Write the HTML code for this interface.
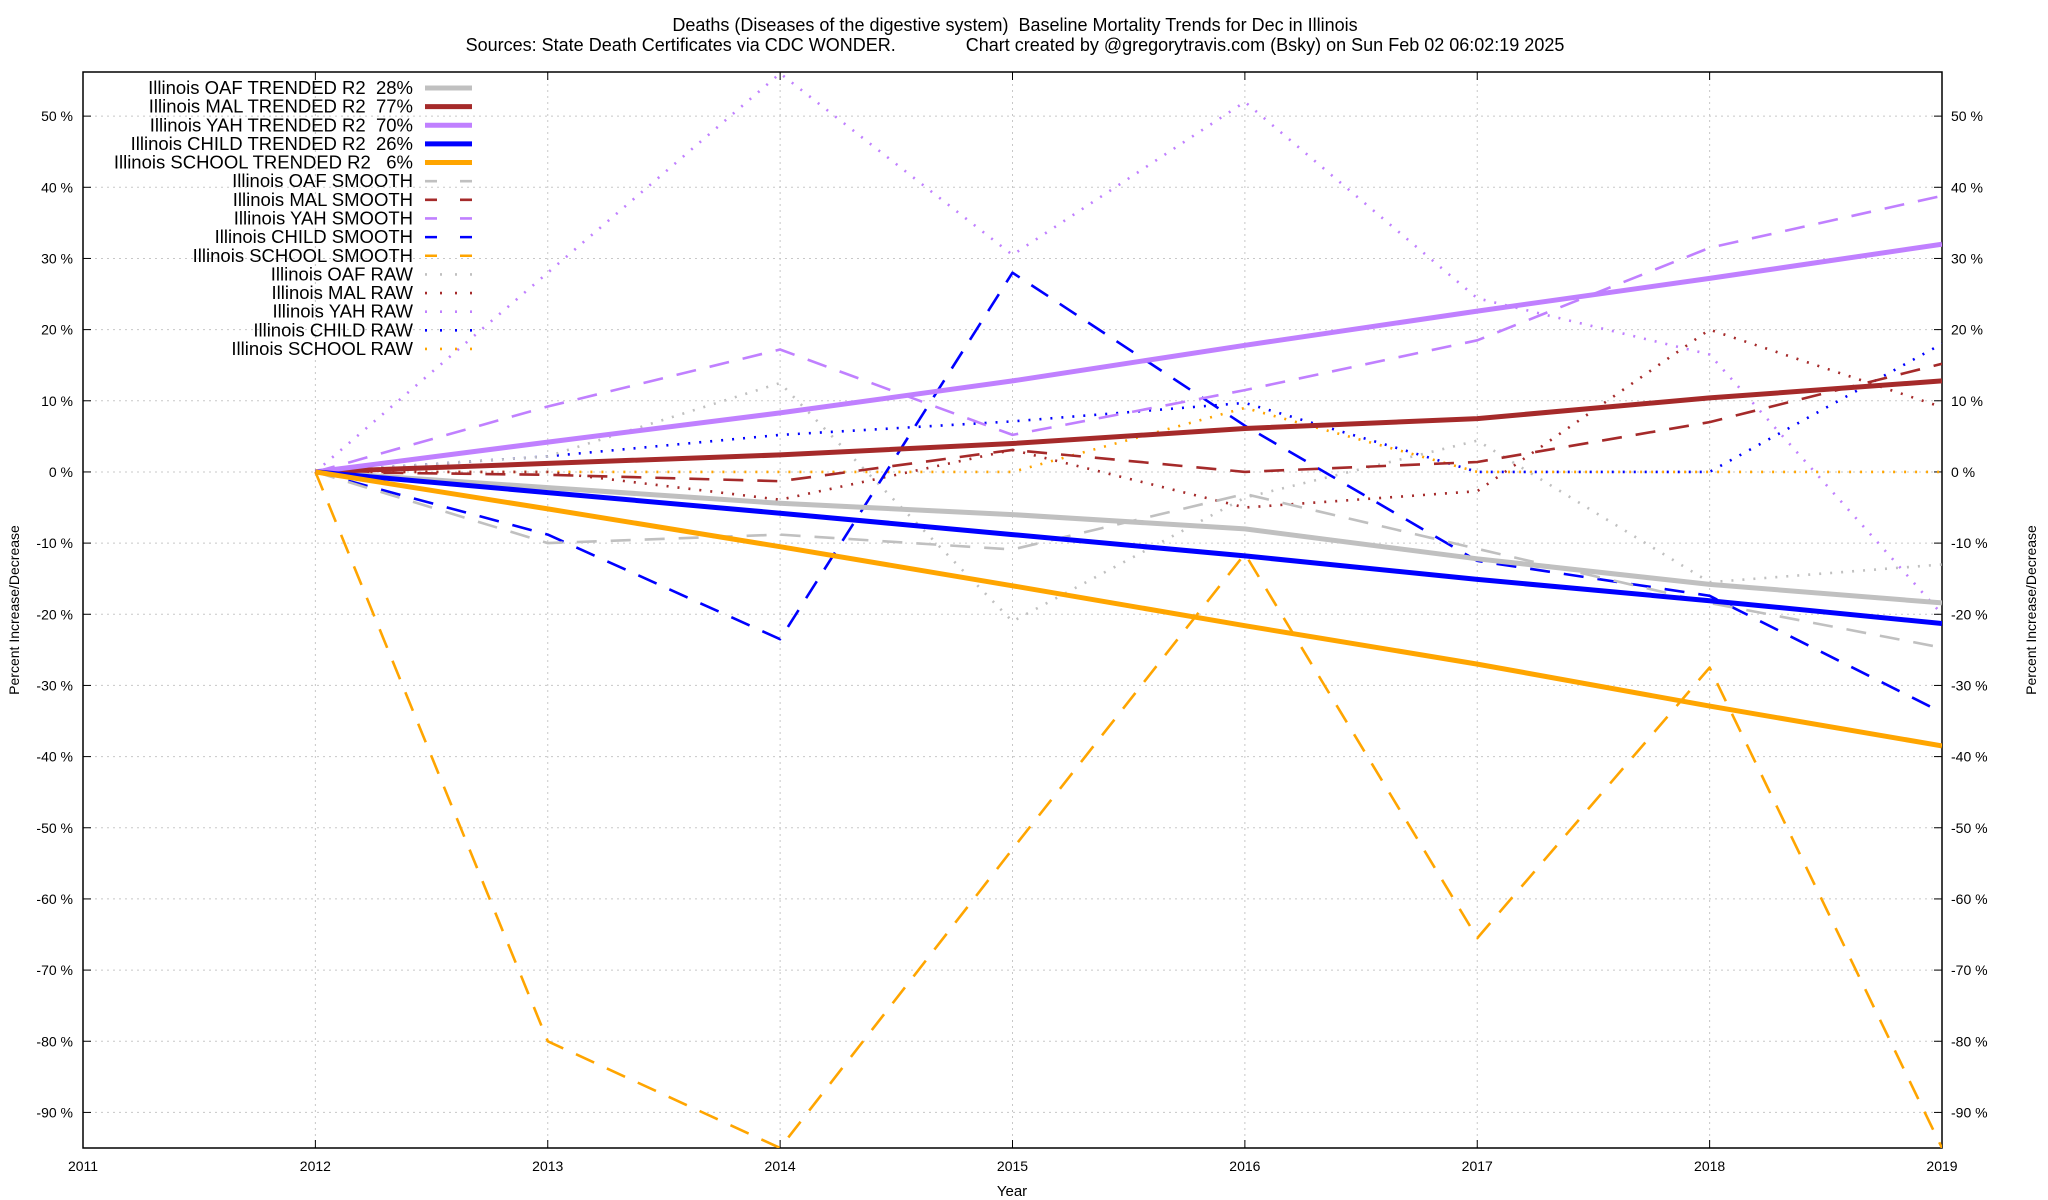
<!DOCTYPE html>
<html><head><meta charset="utf-8">
<style>
html,body{margin:0;padding:0;background:#fff;}
svg{display:block;font-family:"Liberation Sans",Arial,sans-serif;}
text{white-space:pre;}
</style></head>
<body>
<svg id="chart" width="2048" height="1200" viewBox="0 0 2048 1200" xmlns="http://www.w3.org/2000/svg">
<rect x="0" y="0" width="2048" height="1200" fill="#fff"/>
<text x="1015" y="31" font-size="18" text-anchor="middle">Deaths (Diseases of the digestive system)  Baseline Mortality Trends for Dec in Illinois</text>
<text x="1015" y="51" font-size="18" text-anchor="middle">Sources: State Death Certificates via CDC WONDER.              Chart created by @gregorytravis.com (Bsky) on Sun Feb 02 06:02:19 2025</text>
<g id="grid"></g>
<g id="axes"></g>
<g id="series"></g>
<g id="legend"></g>
<text x="1012" y="1196" font-size="15" text-anchor="middle">Year</text>
<text transform="translate(19,610) rotate(-90)" font-size="14" text-anchor="middle">Percent Increase/Decrease</text>
<text transform="translate(2036,610) rotate(-90)" font-size="14" text-anchor="middle">Percent Increase/Decrease</text>
</svg>
<script>
const years = [2012,2013,2014,2015,2016,2017,2018,2019];
const xTicks = [2011,2012,2013,2014,2015,2016,2017,2018,2019];
const yTicks = [50,40,30,20,10,0,-10,-20,-30,-40,-50,-60,-70,-80,-90];
const oafTrend = [0,-2.2,-4.4,-6,-8,-12.2,-15.8,-18.4];
const malTrend = [0,1.2,2.4,4,6.1,7.5,10.4,12.8];
const yahTrend = [0,4.2,8.3,12.8,17.8,22.6,27.2,32];
const childTrend = [0,-2.9,-5.8,-8.8,-11.8,-15.1,-18.1,-21.3];
const schoolTrend = [0,-5.2,-10.5,-16,-21.6,-27,-32.9,-38.5];
const oafSmooth = [0,-10,-8.8,-10.9,-3.1,-10.8,-18.4,-24.7];
const malSmooth = [0,-0.4,-1.3,3.1,0,1.4,7,15.2];
const yahSmooth = [0,9.2,17.2,5.2,11.5,18.5,31.5,38.8];
const childSmooth = [0,-8.8,-23.5,28,6.5,-12.5,-17.4,-33.8];
const schoolSmooth = [0,-80,-95,-53,-11.5,-65.5,-27.5,-95];
const oafRaw = [0,2.2,12.5,-21,-3.6,4.4,-15.5,-13];
const malRaw = [0,0,-3.9,3.1,-5,-2.7,20,9.1];
const yahRaw = [0,28,56,30.5,52,24.4,16.5,-20];
const childRaw = [0,2.2,5.2,7.1,9.7,0,0,18];
const schoolRaw = [0,0,0,0,9,0,0,0];
const legendLabels = ["Illinois OAF TRENDED R2  28%","Illinois MAL TRENDED R2  77%","Illinois YAH TRENDED R2  70%","Illinois CHILD TRENDED R2  26%","Illinois SCHOOL TRENDED R2   6%","Illinois OAF SMOOTH","Illinois MAL SMOOTH","Illinois YAH SMOOTH","Illinois CHILD SMOOTH","Illinois SCHOOL SMOOTH","Illinois OAF RAW","Illinois MAL RAW","Illinois YAH RAW","Illinois CHILD RAW","Illinois SCHOOL RAW"];

const NS="http://www.w3.org/2000/svg";
const L=83,R=1942,T=72,B=1148;
const xMin=2011,xMax=2019,yMin=-95,yMax=56.2;
function xs(v){return L+(v-xMin)/(xMax-xMin)*(R-L);}
function ys(v){return B-(v-yMin)/(yMax-yMin)*(B-T);}
function mk(tag,attrs,parent){const e=document.createElementNS(NS,tag);for(const k in attrs)e.setAttribute(k,attrs[k]);parent.appendChild(e);return e;}

const grid=document.getElementById('grid'),axes=document.getElementById('axes'),ser=document.getElementById('series'),leg=document.getElementById('legend');
xTicks.forEach(t=>{
  const x=xs(t);
  if(t>xMin&&t<xMax){const g=mk('line',{x1:x,y1:T,x2:x,y2:B,stroke:'#c8c8c8','stroke-width':1,'stroke-dasharray':'2,4'},grid);
  
  }
  const tk=mk('line',{x1:x,y1:B,x2:x,y2:B-8,stroke:'#000','stroke-width':1},axes);
  
  
  const tk2=mk('line',{x1:x,y1:T,x2:x,y2:T+8,stroke:'#000','stroke-width':1},axes);
  
  
  const lb=mk('text',{x:x,y:B+23,'font-size':14,'text-anchor':'middle'},axes);lb.textContent=t;
  
  
});
yTicks.forEach(t=>{
  const y=ys(t);
  const g=mk('line',{x1:L,y1:y,x2:R,y2:y,stroke:'#c8c8c8','stroke-width':1,'stroke-dasharray':'2,4'},grid);
  
  
  const a=mk('line',{x1:L,y1:y,x2:L+8,y2:y,stroke:'#000'},axes);
  
  
  const b=mk('line',{x1:R,y1:y,x2:R-8,y2:y,stroke:'#000'},axes);
  
  
  const l1=mk('text',{x:73,y:y+5,'font-size':14,'text-anchor':'end'},axes);l1.textContent=t+' %';
  
  
  const l2=mk('text',{x:1951,y:y+5,'font-size':14,'text-anchor':'start'},axes);l2.textContent=t+' %';
  
  
});
const frame=mk('rect',{x:L,y:T,width:R-L,height:B-T,fill:'none',stroke:'#000','stroke-width':1.5},axes);



const defs=mk('defs',{},ser);
const cp=mk('clipPath',{id:'clip'},defs);
mk('rect',{x:L,y:T,width:R-L,height:B-T},cp);

const C={oaf:'#c0c0c0',mal:'#a52a2a',yah:'#c080ff',child:'#0000ff',school:'#ffa500'};
const styles={trend:{w:5,d:''},smooth:{w:2.6,d:'20,14'},raw:{w:2.6,d:'2,9'}};
const seriesList=[
 ['oaf-trend',oafTrend,C.oaf,'trend'],['mal-trend',malTrend,C.mal,'trend'],['yah-trend',yahTrend,C.yah,'trend'],['child-trend',childTrend,C.child,'trend'],['school-trend',schoolTrend,C.school,'trend'],
 ['oaf-smooth',oafSmooth,C.oaf,'smooth'],['mal-smooth',malSmooth,C.mal,'smooth'],['yah-smooth',yahSmooth,C.yah,'smooth'],['child-smooth',childSmooth,C.child,'smooth'],['school-smooth',schoolSmooth,C.school,'smooth'],
 ['oaf-raw',oafRaw,C.oaf,'raw'],['mal-raw',malRaw,C.mal,'raw'],['yah-raw',yahRaw,C.yah,'raw'],['child-raw',childRaw,C.child,'raw'],['school-raw',schoolRaw,C.school,'raw']
];
const drawOrder=[14,13,12,11,10,9,8,7,6,5,0,1,2,3,4];
drawOrder.forEach(i=>{
  const [name,vals,col,kind]=seriesList[i];const st=styles[kind];
  const pts=vals.map((v,j)=>xs(years[j]).toFixed(1)+','+ys(v).toFixed(1)).join(' ');
  const attrs={points:pts,fill:'none',stroke:col,'stroke-width':st.w,'clip-path':'url(#clip)','stroke-linejoin':'round'};
  if(st.d)attrs['stroke-dasharray']=st.d;
  const p=mk('polyline',attrs,ser);
  
  
});
legendLabels.forEach((lab,i)=>{
  const y=88+i*18.64;const [name,,col,kind]=seriesList[i];const st=styles[kind];
  const g=mk('g',{},leg);
  
  
  const t=mk('text',{x:413,y:y+6,'font-size':18.5,'text-anchor':'end'},g);t.textContent=lab;
  const a={x1:425,y1:y,x2:472,y2:y,stroke:col,'stroke-width':st.w};
  if(kind==='smooth')a['stroke-dasharray']='12,23';
  if(kind==='raw')a['stroke-dasharray']='2,13';
  mk('line',a,g);
});
</script>
</body></html>
